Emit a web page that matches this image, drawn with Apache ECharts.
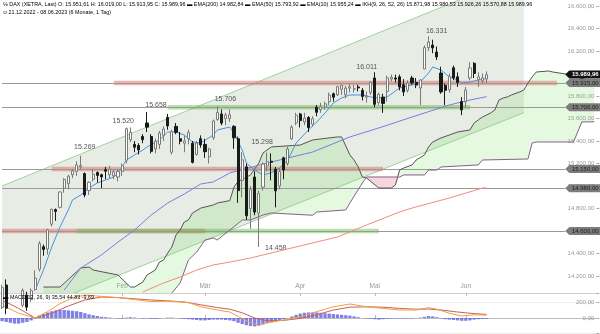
<!DOCTYPE html>
<html><head><meta charset="utf-8">
<script src="https://cdn.jsdelivr.net/npm/echarts@6/dist/echarts.min.js"></script>
<style>html,body{margin:0;padding:0;background:#fff}#c{width:600px;height:334px}</style>
</head><body><div id="c"></div><script>
// ---------- data ----------
const dates = ['21.12.2022','22.12.2022','23.12.2022','27.12.2022','28.12.2022','29.12.2022','30.12.2022',
'02.01.2023','03.01.2023','04.01.2023','05.01.2023','06.01.2023','09.01.2023','10.01.2023','11.01.2023','12.01.2023','13.01.2023','16.01.2023','17.01.2023','18.01.2023','19.01.2023','20.01.2023','23.01.2023','24.01.2023','25.01.2023','26.01.2023','27.01.2023','30.01.2023','31.01.2023',
'01.02.2023','02.02.2023','03.02.2023','06.02.2023','07.02.2023','08.02.2023','09.02.2023','10.02.2023','13.02.2023','14.02.2023','15.02.2023','16.02.2023','17.02.2023','20.02.2023','21.02.2023','22.02.2023','23.02.2023','24.02.2023','27.02.2023','28.02.2023',
'01.03.2023','02.03.2023','03.03.2023','06.03.2023','07.03.2023','08.03.2023','09.03.2023','10.03.2023','13.03.2023','14.03.2023','15.03.2023','16.03.2023','17.03.2023','20.03.2023','21.03.2023','22.03.2023','23.03.2023','24.03.2023','27.03.2023','28.03.2023','29.03.2023','30.03.2023','31.03.2023',
'03.04.2023','04.04.2023','05.04.2023','06.04.2023','11.04.2023','12.04.2023','13.04.2023','14.04.2023','17.04.2023','18.04.2023','19.04.2023','20.04.2023','21.04.2023','24.04.2023','25.04.2023','26.04.2023','27.04.2023','28.04.2023',
'02.05.2023','03.05.2023','04.05.2023','05.05.2023','08.05.2023','09.05.2023','10.05.2023','11.05.2023','12.05.2023','15.05.2023','16.05.2023','17.05.2023','18.05.2023','19.05.2023','22.05.2023','23.05.2023','24.05.2023','25.05.2023','26.05.2023','29.05.2023','30.05.2023','31.05.2023',
'01.06.2023','02.06.2023','05.06.2023','06.06.2023','07.06.2023','08.06.2023'];
const futureDays = 26;

const opens = [13920,14120,13900,13990,14000,13940,14030,
13990,14080,14260,14460,14440,14660,14790,14810,14980,15020,15100,15130,15170,15110,14960,15060,15120,15100,15145,15100,15090,15080,
15130,15230,15410,15370,15360,15440,15560,15440,15330,15370,15450,15610,15300,15530,15420,15380,15420,15380,15280,15420,
15370,15260,15430,15590,15640,15600,15600,15530,15420,15050,15170,14800,15080,14760,14990,15180,15220,15150,15000,15250,15200,15420,15560,
15640,15570,15610,15550,15700,15680,15700,15750,15820,15810,15860,15810,15870,15860,15880,15850,15790,15830,
15960,15740,15790,15840,15950,15960,15970,15900,15850,15960,15920,15871,16040,16230,16253,16191,16004,15895,15855,16050,15970,15750,
15750,15960,16090,15945,15935,15951.61];
const highs = [14123,14170,13960,14040,14030,14090,14060,
14090,14250,14510,14480,14620,14800,14800,14950,15070,15100,15150,15220,15269,15120,15040,15150,15130,15110,15170,15180,15140,15150,
15200,15520,15520,15400,15380,15460,15658,15460,15420,15490,15530,15640,15500,15560,15480,15450,15500,15400,15400,15450,
15420,15340,15590,15706,15680,15650,15680,15540,15440,15300,15200,15000,15130,14960,15210,15298,15290,15170,15160,15260,15350,15540,15650,
15650,15650,15620,15620,15720,15740,15750,15830,15830,15890,15900,15890,15910,15900,15900,15870,15840,15930,
16011,15830,15820,15980,15990,15990,15990,15950,15940,15980,15960,15950,16250,16331,16300,16240,16060,15910,16000,16070,16010,15790,
15880,16100,16100,16010,16000,16019];
const lows = [13906,13860,13880,13960,13900,13920,13890,
13970,14070,14240,14380,14390,14640,14690,14800,14940,14970,15070,15090,15150,14900,14920,15040,15030,14980,15060,15070,15060,15040,
15090,15200,15390,15300,15280,15380,15480,15290,15290,15330,15400,15500,15280,15460,15370,15300,15370,15200,15270,15340,
15250,15200,15410,15580,15540,15540,15570,15330,14850,14900,14700,14620,14740,14458,14960,15130,15050,14810,14970,15060,15180,15410,15540,
15520,15540,15480,15530,15620,15650,15680,15720,15750,15800,15810,15780,15830,15830,15840,15760,15740,15810,
15700,15720,15650,15750,15930,15920,15850,15800,15830,15900,15870,15720,16040,16200,16180,16120,15820,15720,15830,15940,15880,15630,
15700,15940,15960,15880,15910,15913.95];
const closes = [14097,13914,13941,13995,13925,14071,13923,
14069,14181,14490,14436,14610,14792,14774,14947,15058,15087,15134,15187,15181,14920,15033,15103,15094,15081,15132,15150,15126,15128,
15181,15509,15476,15345,15320,15412,15523,15308,15397,15470,15506,15534,15482,15477,15398,15400,15475,15210,15381,15365,
15305,15328,15578,15654,15559,15631,15633,15428,14959,15232,14735,14967,14768,14933,15195,15216,15211,14957,15128,15142,15329,15523,15629,
15581,15603,15520,15598,15655,15703,15730,15808,15789,15883,15896,15870,15882,15863,15872,15796,15800,15922,
15726,15815,15734,15961,15965,15950,15880,15836,15914,15916,15897,15942,16230,16280,16227,16147,15836,15850,15975,15960,15920,15676,
15853,16049,16000,15970,15960,15989.96];

const ema10 = [[8,14075],[10,14253],[12,14458],[14,14636],[16,14787],[17,14876],[19,14920],[21,14982],[23,15027],[27,15080],[28,15116],[29,15169],[30,15231],[32,15276],[34,15320],[35,15347],[38,15409],[40,15480],[42,15480],[44,15453],[46,15391],[48,15382],[51,15453],[52,15498],[55,15524],[56,15471],[58,15320],[59,15204],[61,15142],[63,15098],[65,15116],[67,15160],[69,15231],[71,15382],[74,15498],[76,15569],[78,15649],[80,15738],[82,15782],[84,15809],[87,15809],[89,15791],[91,15782],[93,15791],[96,15871],[99,15898],[101,15924],[103,16004],[104,16058],[106,16031],[108,15969],[110,15942],[111,15916],[113,15924],[115,15942],[117,15955]];
const ema50 = [[15,14075],[19,14271],[24,14387],[28,14502],[32,14609],[36,14742],[40,14849],[44,14929],[48,15018],[51,15036],[55,15116],[64,15204],[75,15302],[84,15436],[91,15516],[99,15613],[108,15720],[113,15764],[117,15794]];
const ema200 = [[34,14058],[39,14138],[43,14191],[47,14253],[51,14298],[55,14324],[60,14360],[63,14387],[81,14547],[88,14653],[96,14769],[99,14804],[108,14893],[116,14982],[117,14983]];

const spanA = [[10,14102],[14,14102],[19,14271],[21,14280],[22,14253],[28,14209],[31,14102],[32,14102],[34,14147],[35,14209],[37,14253],[38,14324],[39,14342],[40,14404],[41,14458],[42,14564],[43,14609],[44,14680],[45,14698],[46,14760],[48,14804],[51,14831],[52,14849],[55,14870],[56,14990],[57,15040],[60,15098],[62,15204],[63,15293],[65,15347],[72,15364],[75,15409],[81,15436],[82,15436],[84,15276],[85,15231],[86,15169],[87,15080],[88,15071],[91,14982],[94,14982],[95,15009],[96,15142],[97,15160],[99,15187],[100,15231],[102,15276],[103,15347],[104,15391],[106,15427],[108,15453],[110,15480],[113,15498],[114,15560],[115,15587],[116,15613],[117,15631],[118,15649],[119,15676],[120,15764],[121,15782],[122,15791],[123,15809],[125,15836],[126,15853],[127,15916],[128,15969],[129,16013],[132,16022],[133,16013],[136,15996],[143,15926]];
const spanB = [[41,14049],[43,14138],[45,14342],[47,14413],[49,14520],[51,14538],[52,14520],[55,14609],[58,14698],[60,14698],[63,14742],[65,14760],[75,14740],[76,14769],[83,14787],[84,14849],[87,15027],[88,15080],[96,15080],[97,15098],[102,15098],[103,15142],[105,15142],[106,15169],[115,15187],[116,15231],[127,15240],[128,15382],[129,15391],[138,15391],[140,15569],[143,15571]];

const channelIdx = [0, 126];
const channelTop = [15000, 16887];
const channelBottom = [13791, 15652];

const levelValues = [15915, 15700, 15150, 14980, 14600];
const tagValues = [15989.96, 15915, 15700, 15150, 14980, 14600];
const bandLevels = [15915, 15700, 15150, 14600, 14600];
const bandFrom = [27, 40, 12, 0, 18];
const bandTo = [134, 113, 92, 49, 91];
const bandKind = ['r', 'g', 'r', 'r', 'g'];

const peakIdx = [19, 30, 35, 52, 64, 62, 90, 103];
const peakVal = [15269, 15520, 15658, 15706, 15298, 14458, 16011, 16331];
const peakOff = [[4,-9],[-3,-6],[9,-7],[8,-7],[-5,-10],[17,1],[-8,-5],[8,-5]];

const monthIdx = [7, 29, 49, 72, 90, 112];
const monthNames = ['Jan 23', 'Feb', 'Mär', 'Apr', 'Mai', 'Jun'];

const macdLine = [[0,162],[4,60],[8,0],[11,80],[14,180],[17,250],[20,287],[24,270],[28,255],[32,230],[36,205],[40,210],[45,195],[48,140],[52,100],[55,75],[57,20],[60,-60],[62,-90],[64,-60],[68,-25],[72,15],[76,80],[80,140],[84,175],[88,140],[92,120],[96,100],[100,100],[103,130],[105,110],[108,60],[111,25],[114,40],[117,35.54]];
const signalLine = [[0,225],[4,120],[8,0],[12,60],[16,150],[20,225],[24,262],[28,255],[32,240],[36,225],[40,215],[44,200],[48,165],[52,130],[55,110],[58,65],[61,0],[64,-35],[68,-30],[72,-5],[76,40],[80,100],[84,135],[88,140],[92,135],[96,120],[100,110],[103,112],[106,100],[110,75],[114,55],[117,44.83]];
const histValues = [-40,-50,-60,-70,-70,-60,-50,-30,
10,30,50,70,85,95,100,100,95,90,85,75,60,45,35,25,
15,10,5,0,-5,-5,5,10,5,0,-5,-5,-10,-10,-5,0,5,5,0,-5,-10,-15,
-20,-25,-30,-30,-25,-20,-20,-20,-25,-30,-40,
-60,-75,-90,-100,-105,-95,-80,-65,-55,-45,
-30,-15,0,20,40,55,
65,70,70,70,65,60,55,50,45,40,35,30,20,10,
0,-5,-10,-15,-20,-15,-10,-5,-5,
-5,-5,-5,-5,0,5,15,25,20,
10,-5,-15,-20,-25,-30,-35,-35,-30,-20,-15,-12,-9.69];

// ---------- helpers ----------
function de(v, d) {
  if (d === undefined) d = 2;
  const s = Math.abs(v).toFixed(d).split('.');
  const a = s[0].replace(/\B(?=(\d{3})+(?!\d))/g, '.');
  return (v < 0 ? '-' : '') + a + (d ? ',' + s[1] : '');
}
function interp(arr, x) {
  if (x <= arr[0][0]) return arr[0][1];
  for (let k = 1; k < arr.length; k++) {
    if (x <= arr[k][0]) {
      const p = arr[k - 1], q = arr[k];
      return p[1] + (q[1] - p[1]) * (x - p[0]) / (q[0] - p[0]);
    }
  }
  return arr[arr.length - 1][1];
}
function mapper(api) {
  const a = api.coord([0, 15000]), b = api.coord([1, 16000]);
  const sx = b[0] - a[0], sy = (b[1] - a[1]) / 1000;
  return (x, v) => [a[0] + x * sx, a[1] + (v - 15000) * sy];
}
function clipRect(params) {
  const c = params.coordSys;
  return { type: 'rect', shape: { x: c.x, y: c.y, width: c.width, height: c.height } };
}

const cats = dates.concat(Array.from({ length: futureDays }, (_, k) => '+' + (k + 1)));
const candles = dates.map((d, i) => [opens[i], closes[i], lows[i], highs[i]]);
const FONT = 'Liberation Sans, Arial, sans-serif';

function channelItem(params, api) {
  const P = mapper(api);
  const t0 = P(channelIdx[0], channelTop[0]), t1 = P(channelIdx[1], channelTop[1]);
  const b0 = P(channelIdx[0], channelBottom[0]), b1 = P(channelIdx[1], channelBottom[1]);
  return { type: 'group', clipPath: clipRect(params), children: [
    { type: 'polygon', shape: { points: [t0, t1, b1, b0] }, style: { fill: '#e7ece5' } },
    { type: 'polyline', shape: { points: [t0, t1] }, style: { stroke: '#9fd29a', lineWidth: 1, fill: null } },
    { type: 'polyline', shape: { points: [b0, b1] }, style: { stroke: '#9fd29a', lineWidth: 1, fill: null } }
  ] };
}

function cloudItem(params, api) {
  const P = mapper(api);
  const x0 = spanA[0][0], x1 = spanA[spanA.length - 1][0];
  const xs = Array.from(new Set(spanA.map(p => p[0]).concat(spanB.map(p => p[0]))))
    .filter(x => x >= x0 && x <= x1).sort((p, q) => p - q);
  const diff = x => interp(spanA, x) - interp(spanB, x);
  const pts = [];
  for (let k = 0; k < xs.length; k++) {
    if (k > 0) {
      const xa = xs[k - 1], xb = xs[k], da = diff(xa), db = diff(xb);
      if (da * db < 0) pts.push(xa + (xb - xa) * da / (da - db));
    }
    pts.push(xs[k]);
  }
  const children = [];
  let run = [], sign = 0;
  const flush = sg => {
    if (run.length < 2) return;
    const top = run.map(x => P(x, interp(spanA, x)));
    const bot = run.slice().reverse().map(x => P(x, interp(spanB, x)));
    children.push({ type: 'polygon', shape: { points: top.concat(bot) },
      style: { fill: sg > 0 ? 'rgba(125,220,100,0.2)' : 'rgba(226,130,145,0.32)' } });
  };
  for (const x of pts) {
    const d = diff(x);
    const s = Math.abs(d) < 1e-6 ? 0 : (d > 0 ? 1 : -1);
    if (s === 0) { run.push(x); if (sign !== 0) flush(sign); run = [x]; sign = 0; }
    else if (sign === 0 || s === sign) { run.push(x); sign = s; }
    else { flush(sign); run = [x]; sign = s; }
  }
  if (sign !== 0) flush(sign);
  return { type: 'group', clipPath: clipRect(params), children };
}

const bandsData = bandLevels.map((v, k) => [
  { coord: [bandFrom[k], v + 20], itemStyle: { color: bandKind[k] === 'r' ? 'rgba(222,92,80,0.45)' : 'rgba(90,190,60,0.45)' } },
  { coord: [bandTo[k], v - 20] }
]);
const linesData = levelValues.map(v => [{ coord: [0, v] }, { coord: [136, v] }]);
const tagsData = tagValues.map((v, k) => ({
  coord: [136, v],
  symbol: 'path://M0,4 L4,0 L35,0 L35,8 L4,8 Z',
  symbolSize: [36, 8], symbolOffset: [18, 0],
  itemStyle: { color: k === 0 ? '#111' : '#7c7c7c' },
  label: { show: true, position: 'inside', offset: [2, 0], formatter: de(v), color: k === 0 ? '#fff' : '#222',
    fontSize: 6, fontWeight: k === 0 ? 'bold' : 'normal', fontFamily: FONT }
}));
const peaksData = peakIdx.map((ix, k) => ({
  coord: [ix, peakVal[k]], symbol: 'circle', symbolSize: 0,
  label: { show: true, position: 'inside', offset: peakOff[k], formatter: de(peakVal[k], 0), color: '#555', fontSize: 7, fontFamily: FONT }
}));

const isMonth = i => monthIdx.indexOf(i) >= 0;

const header1 = '{g|℅ DAX (XETRA, Last) O: 15.951,61 H: 16.019,00 L: 15.913,95 C: 15.989,96 }' +
  '{r|▬ EMA(200) 14.982,84 }{b|▬ EMA(50) 15.793,92 }{lb|▬ EMA(10) 15.955,24 }' +
  '{o|▬ IKH(9, 26, 52, 26) 15.871,98 }{k|15.980,53 }{g|15.926,26 }{p|15.570,88 }{gy|15.989,96}';
const header2 = '{g|⊙ 21.12.2022 - 08.06.2023 (6 Monate, 1 Tag)}';
const macdHead = '{o|▬ }{g|MACD(12, 26, 9) }{o|35,54 }{r|44,83 }{b|-9,69}';
const FS = 5.4;
const rich = {
  g: { color: '#555', fontSize: FS, fontFamily: FONT },
  gy: { color: '#8a8a6a', fontSize: FS, fontFamily: FONT },
  r: { color: '#e2483d', fontSize: FS, fontFamily: FONT },
  b: { color: '#4b4bd8', fontSize: FS, fontFamily: FONT },
  lb: { color: '#4a90d9', fontSize: FS, fontFamily: FONT },
  o: { color: '#e8a020', fontSize: FS, fontFamily: FONT },
  k: { color: '#5a86b0', fontSize: FS, fontFamily: FONT },
  p: { color: '#9a6a9a', fontSize: FS, fontFamily: FONT }
};

const option = {
  animation: false,
  backgroundColor: '#fff',
  textStyle: { fontFamily: FONT },
  graphic: [
    { type: 'text', left: 3, top: 2, z: 100, style: { text: header1, rich } },
    { type: 'text', left: 3, top: 10, z: 100, style: { text: header2, rich } },
    { type: 'text', left: 3, top: 295, z: 100, style: { text: macdHead, rich } }
  ],
  grid: [
    { left: -2.7, right: 3.7, top: 0, bottom: 41 },
    { left: -2.7, right: 3.7, top: 293, bottom: 1 }
  ],
  xAxis: [
    { type: 'category', data: cats, gridIndex: 0, boundaryGap: true,
      axisLine: { show: true, lineStyle: { color: '#d0d0d0' } },
      axisTick: { show: true, alignWithLabel: true, interval: isMonth, length: 3, lineStyle: { color: '#bbb' } },
      axisLabel: { show: true, inside: true, interval: isMonth, margin: 3, color: '#999', fontSize: 6.5,
        formatter: (v, i) => monthNames[monthIdx.indexOf(i)] },
      splitLine: { show: false } },
    { type: 'category', data: cats, gridIndex: 1, boundaryGap: true,
      axisLine: { show: true, lineStyle: { color: '#bbb' } },
      axisTick: { show: true, inside: true, alignWithLabel: true, interval: isMonth, length: 3, lineStyle: { color: '#bbb' } },
      axisLabel: { show: false }, splitLine: { show: false } }
  ],
  yAxis: [
    { type: 'value', gridIndex: 0, position: 'right', min: 14049, max: 16653, splitNumber: 13,
      axisLine: { show: false },
      axisTick: { show: true, inside: false, length: 3, lineStyle: { color: '#aaa' } },
      axisLabel: { inside: true, margin: 2, color: '#999', fontSize: 6, showMinLabel: false, showMaxLabel: false,
        formatter: v => (v % 200 === 0 ? de(v) : '') },
      splitLine: { show: false } },
    { type: 'value', gridIndex: 1, position: 'right', min: -187.5, max: 312.5, splitNumber: 3,
      axisLine: { show: false },
      axisTick: { show: true, inside: false, length: 3, lineStyle: { color: '#aaa' } },
      axisLabel: { inside: true, margin: 2, color: '#999', fontSize: 6, formatter: v => (v === 0 || v === 200) ? de(v) : '' },
      splitLine: { show: true, lineStyle: { color: '#eeeeee' } } }
  ],
  series: [
    { name: 'channel', type: 'custom', xAxisIndex: 0, yAxisIndex: 0, z: 1, silent: true, data: [[0, 15000]], renderItem: channelItem },
    { name: 'cloud', type: 'custom', xAxisIndex: 0, yAxisIndex: 0, z: 2, silent: true, data: [[0, 15000]], renderItem: cloudItem },
    { name: 'levels', type: 'line', xAxisIndex: 0, yAxisIndex: 0, z: 3, data: [], silent: true,
      markArea: { silent: true, z: 3, data: bandsData },
      markLine: { silent: true, z: 3, symbol: ['none', 'none'], label: { show: false },
        lineStyle: { color: '#9a9a9a', width: 1, type: 'solid' }, data: linesData } },
    { name: 'SenkouA', type: 'line', data: spanA, z: 4, showSymbol: false, symbol: 'none', lineStyle: { color: '#555', width: 1 } },
    { name: 'SenkouB', type: 'line', data: spanB, z: 4, showSymbol: false, symbol: 'none', lineStyle: { color: '#86608a', width: 1 } },
    { name: 'EMA200', type: 'line', data: ema200, z: 5, symbol: 'none', lineStyle: { color: '#f28a80', width: 1 } },
    { name: 'EMA50', type: 'line', data: ema50, z: 5, symbol: 'none', lineStyle: { color: '#7c7ce6', width: 1 } },
    { name: 'EMA10', type: 'line', data: ema10, z: 5, symbol: 'none', lineStyle: { color: '#4a93dd', width: 1 } },
    { name: 'DAX', type: 'candlestick', data: candles, z: 6, barWidth: 2.6,
      itemStyle: { color: '#ffffff', color0: '#1a1a1a', borderColor: '#7a7a7a', borderColor0: '#1a1a1a', borderWidth: 1 },
      markPoint: { silent: true, data: peaksData } },
    { name: 'tags', type: 'line', data: [], z: 10, silent: true, markPoint: { silent: true, z: 10, data: tagsData } },
    { name: 'Hist', type: 'bar', xAxisIndex: 1, yAxisIndex: 1, data: histValues, barWidth: '80%',
      itemStyle: { color: 'rgba(96,96,225,0.8)' } },
    { name: 'Signal', type: 'line', xAxisIndex: 1, yAxisIndex: 1, data: signalLine, symbol: 'none', lineStyle: { color: '#c8605a', width: 1 } },
    { name: 'MACD', type: 'line', xAxisIndex: 1, yAxisIndex: 1, data: macdLine, symbol: 'none', lineStyle: { color: '#f0a040', width: 1 } }
  ]
};
const chart = echarts.init(document.getElementById('c'), null, { renderer: 'canvas' });
chart.setOption(option);
</script></body></html>
